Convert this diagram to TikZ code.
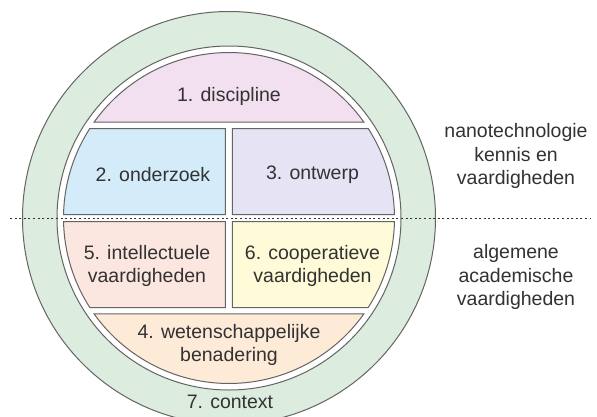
\documentclass[tikz,border=0pt]{standalone}
\usepackage{fontspec}
\setmainfont{Liberation Sans}
\definecolor{ringgreen}{RGB}{220,236,222}
\definecolor{segpink}{RGB}{242,223,240}
\definecolor{segblue}{RGB}{212,236,250}
\definecolor{segpurple}{RGB}{230,227,244}
\definecolor{segsalmon}{RGB}{252,230,224}
\definecolor{segyellow}{RGB}{255,250,216}
\definecolor{segpeach}{RGB}{253,235,216}
\definecolor{edgegray}{RGB}{100,100,100}
\definecolor{txtgray}{RGB}{50,50,50}
\begin{document}
\begin{tikzpicture}[x=1pt,y=1pt,
  seg/.style={draw=edgegray,line width=1pt},
  lbl/.style={font=\fontsize{19.5}{23.5}\selectfont,text=txtgray,align=center,inner sep=0pt},
  divider/.style={draw=txtgray,line width=0.9pt,dash pattern=on 2pt off 2.6pt}]
\pgfmathsetmacro\R{165.5}
\pgfmathsetmacro\aA{asin(96/\R)}
\pgfmathsetmacro\aB{asin(89.5/\R)}
\pgfmathsetmacro\aC{asin(3.5/\R)}
% bounding box: image 597x416, circle centre at (229,218) px
\useasboundingbox (-229,-198) rectangle (368,218);
\fill[white] (-229,-198) rectangle (368,218);
% outer ring
\filldraw[fill=ringgreen,draw=edgegray,line width=1pt] (0,0) circle[radius=206.5pt];
\filldraw[fill=white,draw=edgegray,line width=1pt] (0,0) circle[radius=172pt];
% segments
\filldraw[seg,fill=segpink] (\aA:\R pt) arc[start angle=\aA,end angle={180-\aA},radius=\R pt] -- cycle;
\filldraw[seg,fill=segblue] (-3.5,89.5) -- ({180-\aB}:\R pt) arc[start angle={180-\aB},end angle={180-\aC},radius=\R pt] -- (-3.5,3.5) -- cycle;
\filldraw[seg,fill=segpurple] (3.5,89.5) -- (3.5,3.5) -- (\aC:\R pt) arc[start angle=\aC,end angle=\aB,radius=\R pt] -- cycle;
\filldraw[seg,fill=segsalmon] (-3.5,-3.5) -- ({180+\aC}:\R pt) arc[start angle={180+\aC},end angle={180+\aB},radius=\R pt] -- (-3.5,-89.5) -- cycle;
\filldraw[seg,fill=segyellow] (3.5,-3.5) -- (3.5,-89.5) -- ({-\aB}:\R pt) arc[start angle={-\aB},end angle={-\aC},radius=\R pt] -- cycle;
\filldraw[seg,fill=segpeach] ({180+\aA}:\R pt) arc[start angle={180+\aA},end angle={360-\aA},radius=\R pt] -- cycle;
% divider
\coordinate (dl) at (-219,0);
\coordinate (dr) at (361,0);
\draw[divider] (dl) -- (dr);
% labels
\node[lbl] (discipline) at (0,122) {1. discipline};
\node[lbl] (onderzoek) at (-76,43) {2. onderzoek};
\node[lbl] (ontwerp) at (83.5,43) {3. ontwerp};
\node[lbl] (intellectueel) at (-82,-48) {5. intellectuele\\vaardigheden};
\node[lbl] (cooperatief) at (83.5,-48) {6. cooperatieve\\vaardigheden};
\node[lbl] (wetenschap) at (0,-127) {4. wetenschappelijke\\benadering};
\node[lbl] (context) at (1,-184) {7. context};
\node[lbl] (nano) at (287,62) {nanotechnologie\\kennis en\\vaardigheden};
\node[lbl] (algemeen) at (287,-59) {algemene\\academische\\vaardigheden};
\end{tikzpicture}
\end{document}
